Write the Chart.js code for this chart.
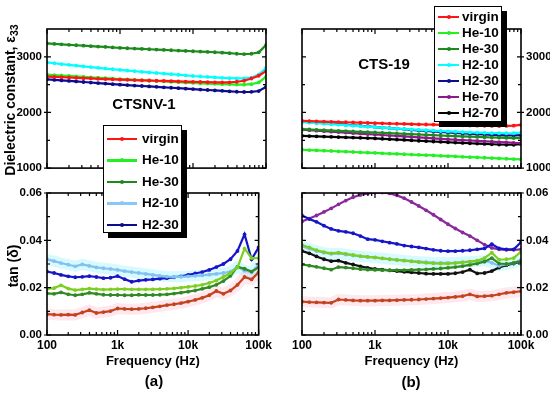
<!DOCTYPE html>
<html>
<head>
<meta charset="utf-8">
<script src="https://cdn.jsdelivr.net/npm/chart.js@4.4.0/dist/chart.umd.min.js"></script>
<style>
body { margin: 0; background: #fff; width: 550px; height: 394px; position: relative; overflow: hidden;
       font-family: 'Liberation Sans', Arial, sans-serif; font-weight: bold; color: #000; }
.panel { position: absolute; }
.txt { position: absolute; white-space: nowrap; transform: translate(-50%, -50%); }
.vtxt { position: absolute; white-space: nowrap; transform: translate(-50%, -50%) rotate(-90deg); font-size: 14px; }
.legend { position: absolute; background: #fff; border: 1px solid #000; box-shadow: 5px 5px 0 #000; z-index: 5; }
.legend .row { position: relative; white-space: nowrap; }
.legend .ln { position: absolute; height: 2.5px; }
.legend .dot { position: absolute; width: 4px; height: 4px; border-radius: 50%; }
.legend .lab { position: absolute; font-size: 13.5px; }
</style>
</head>
<body>
<div class="panel" id="pA1" style="left:0;top:0;width:275px;height:180px"><canvas id="cA1"></canvas></div>
<div class="panel" id="pA2" style="left:0;top:180px;width:275px;height:214px"><canvas id="cA2"></canvas></div>
<div class="panel" id="pB1" style="left:275px;top:0;width:275px;height:180px"><canvas id="cB1"></canvas></div>
<div class="panel" id="pB2" style="left:275px;top:180px;width:275px;height:214px"><canvas id="cB2"></canvas></div>

<div class="vtxt" style="left:11px;top:100px">Dielectric constant, &epsilon;<sub style="font-size:10.5px">33</sub></div>
<div class="vtxt" style="left:13px;top:266px">tan (&delta;)</div>
<div class="txt" style="left:144px;top:103px;font-size:15px">CTSNV-1</div>
<div class="txt" style="left:384px;top:63px;font-size:15px">CTS-19</div>
<div class="txt" style="left:154px;top:380px;font-size:15px">(a)</div>
<div class="txt" style="left:411px;top:381px;font-size:15px">(b)</div>
<div class="legend" id="legA" style="left:103px;top:125px;width:77px;height:106px"></div>
<div class="legend" id="legB" style="left:434px;top:6px;width:66px;height:114px"></div>

<script>
const freq = [100, 126, 158, 200, 251, 316, 398, 501, 631, 794, 1000, 1259, 1585, 1995, 2512, 3162, 3981, 5012, 6310, 7943,
    10000, 12589, 15849, 19953, 25119, 31623, 39811, 50119, 63096, 79433, 100000];
const xMajor = [100, 1000, 10000, 100000];
const xLabels = ['100', '1k', '10k', '100k'];
const epsTicks = [1000, 2000, 3000];
const epsMinor = [1500, 2500];
const tanTicks = [0, 0.02, 0.04, 0.06];
const tanMinor = [0.01, 0.03, 0.05];

const namesA = ['virgin', 'He-10', 'He-30', 'H2-10', 'H2-30'];
const namesB = ['virgin', 'He-10', 'He-30', 'H2-10', 'H2-30', 'He-70', 'H2-70'];

// (a) CTSNV-1, dielectric constant
const epsA_virgin = [2645, 2640, 2634, 2628, 2622, 2616, 2611, 2605, 2600, 2595, 2590, 2586, 2582, 2578, 2574, 2570, 2566, 2562, 2558, 2554, 2550, 2547, 2544, 2541, 2539, 2542, 2552, 2570, 2610, 2660, 2740];
const epsA_he10 = [2680, 2672, 2664, 2656, 2648, 2640, 2632, 2624, 2616, 2608, 2600, 2593, 2586, 2579, 2572, 2565, 2558, 2551, 2544, 2537, 2530, 2524, 2519, 2514, 2509, 2505, 2502, 2500, 2508, 2540, 2640];
const epsA_he30 = [3240, 3232, 3224, 3216, 3208, 3200, 3192, 3184, 3177, 3168, 3160, 3154, 3148, 3142, 3136, 3130, 3124, 3118, 3112, 3106, 3100, 3094, 3088, 3082, 3075, 3065, 3055, 3050, 3055, 3080, 3210];
const epsA_h210 = [2900, 2885, 2870, 2856, 2842, 2828, 2815, 2802, 2789, 2777, 2765, 2753, 2742, 2731, 2720, 2709, 2698, 2688, 2678, 2667, 2655, 2646, 2638, 2630, 2623, 2617, 2612, 2612, 2625, 2680, 2800];
const epsA_h230 = [2595, 2585, 2576, 2566, 2557, 2547, 2538, 2528, 2519, 2509, 2500, 2492, 2484, 2476, 2468, 2460, 2452, 2444, 2436, 2428, 2420, 2412, 2404, 2396, 2388, 2380, 2372, 2368, 2370, 2385, 2460];

// (a) CTSNV-1, tan delta
const tanA_virgin = [0.0088, 0.0086, 0.0085, 0.0086, 0.0085, 0.0095, 0.0105, 0.0093, 0.0097, 0.0101, 0.0112, 0.0110, 0.0109, 0.0110, 0.0113, 0.0117, 0.0121, 0.0126, 0.0130, 0.0135, 0.0141, 0.0148, 0.0157, 0.0168, 0.0186, 0.0174, 0.0188, 0.0212, 0.0245, 0.0235, 0.0265];
const tanA_he10 = [0.0195, 0.0198, 0.0210, 0.0196, 0.0190, 0.0193, 0.0196, 0.0194, 0.0192, 0.0193, 0.0194, 0.0194, 0.0193, 0.0193, 0.0193, 0.0193, 0.0194, 0.0195, 0.0197, 0.0200, 0.0203, 0.0207, 0.0212, 0.0220, 0.0230, 0.0245, 0.0262, 0.0285, 0.0365, 0.0325, 0.0325];
const tanA_he30 = [0.0176, 0.0174, 0.0180, 0.0172, 0.0168, 0.0172, 0.0178, 0.0174, 0.0170, 0.0169, 0.0169, 0.0168, 0.0168, 0.0170, 0.0169, 0.0169, 0.0170, 0.0172, 0.0175, 0.0179, 0.0183, 0.0188, 0.0195, 0.0202, 0.0212, 0.0228, 0.0250, 0.0288, 0.0280, 0.0268, 0.0285];
const tanA_h210 = [0.0320, 0.0312, 0.0304, 0.0297, 0.0290, 0.0298, 0.0292, 0.0286, 0.0282, 0.0279, 0.0275, 0.0270, 0.0266, 0.0262, 0.0258, 0.0254, 0.0250, 0.0247, 0.0246, 0.0246, 0.0248, 0.0250, 0.0252, 0.0255, 0.0258, 0.0262, 0.0268, 0.0288, 0.0272, 0.0265, 0.0298];
const tanA_h230 = [0.0268, 0.0262, 0.0254, 0.0248, 0.0244, 0.0246, 0.0249, 0.0245, 0.0240, 0.0242, 0.0249, 0.0236, 0.0225, 0.0230, 0.0233, 0.0235, 0.0238, 0.0240, 0.0244, 0.0248, 0.0254, 0.0260, 0.0266, 0.0275, 0.0287, 0.0300, 0.0320, 0.0355, 0.0425, 0.0320, 0.0370];

// (b) CTS-19, dielectric constant
const epsB_virgin = [1850, 1845, 1841, 1836, 1832, 1828, 1824, 1820, 1816, 1812, 1808, 1804, 1800, 1797, 1794, 1790, 1787, 1784, 1781, 1778, 1775, 1772, 1769, 1766, 1763, 1760, 1758, 1757, 1758, 1762, 1778];
const epsB_he10 = [1330, 1324, 1318, 1313, 1307, 1301, 1295, 1289, 1284, 1278, 1272, 1266, 1260, 1255, 1249, 1243, 1238, 1232, 1227, 1221, 1215, 1209, 1203, 1197, 1191, 1186, 1180, 1174, 1168, 1162, 1157];
const epsB_he30 = [1700, 1694, 1688, 1682, 1676, 1670, 1664, 1658, 1652, 1646, 1640, 1634, 1628, 1622, 1616, 1610, 1604, 1598, 1592, 1586, 1580, 1575, 1570, 1565, 1560, 1555, 1550, 1546, 1542, 1540, 1542];
const epsB_h210 = [1825, 1816, 1807, 1798, 1789, 1780, 1771, 1762, 1753, 1744, 1735, 1727, 1719, 1711, 1703, 1695, 1688, 1681, 1674, 1667, 1660, 1654, 1648, 1643, 1638, 1634, 1630, 1627, 1626, 1627, 1635];
const epsB_h230 = [1840, 1830, 1820, 1810, 1800, 1790, 1780, 1770, 1760, 1749, 1738, 1728, 1718, 1708, 1698, 1688, 1678, 1668, 1658, 1649, 1640, 1632, 1624, 1617, 1610, 1604, 1598, 1592, 1588, 1586, 1592];
const epsB_he70 = [1690, 1681, 1672, 1664, 1655, 1647, 1638, 1629, 1621, 1612, 1604, 1595, 1586, 1578, 1569, 1560, 1552, 1543, 1534, 1526, 1517, 1510, 1503, 1496, 1489, 1482, 1475, 1468, 1461, 1454, 1450];
const epsB_h270 = [1580, 1576, 1571, 1567, 1562, 1558, 1553, 1548, 1544, 1539, 1534, 1527, 1520, 1513, 1506, 1499, 1492, 1485, 1478, 1472, 1465, 1459, 1453, 1447, 1441, 1435, 1429, 1424, 1420, 1420, 1432];

// (b) CTS-19, tan delta
const tanB_virgin = [0.0141, 0.0139, 0.0138, 0.0137, 0.0136, 0.0150, 0.0148, 0.0146, 0.0145, 0.0145, 0.0145, 0.0146, 0.0146, 0.0147, 0.0148, 0.0149, 0.0150, 0.0152, 0.0154, 0.0156, 0.0158, 0.0161, 0.0164, 0.0172, 0.0163, 0.0164, 0.0166, 0.0172, 0.0178, 0.0181, 0.0185];
const tanB_he10 = [0.0380, 0.0370, 0.0358, 0.0350, 0.0345, 0.0348, 0.0343, 0.0338, 0.0333, 0.0330, 0.0328, 0.0324, 0.0320, 0.0317, 0.0314, 0.0311, 0.0308, 0.0305, 0.0303, 0.0302, 0.0302, 0.0304, 0.0307, 0.0310, 0.0314, 0.0325, 0.0348, 0.0318, 0.0320, 0.0325, 0.0352];
const tanB_he30 = [0.0298, 0.0293, 0.0288, 0.0282, 0.0276, 0.0287, 0.0285, 0.0282, 0.0278, 0.0276, 0.0275, 0.0274, 0.0274, 0.0274, 0.0274, 0.0275, 0.0276, 0.0277, 0.0279, 0.0281, 0.0284, 0.0287, 0.0291, 0.0296, 0.0302, 0.0310, 0.0325, 0.0302, 0.0300, 0.0305, 0.0312];
const tanB_h210 = [0.0375, 0.0365, 0.0355, 0.0348, 0.0343, 0.0345, 0.0340, 0.0336, 0.0332, 0.0330, 0.0327, 0.0324, 0.0321, 0.0318, 0.0315, 0.0312, 0.0310, 0.0308, 0.0306, 0.0305, 0.0305, 0.0306, 0.0308, 0.0310, 0.0312, 0.0314, 0.0305, 0.0292, 0.0298, 0.0305, 0.0318];
const tanB_h230 = [0.0505, 0.0490, 0.0478, 0.0462, 0.0448, 0.0440, 0.0436, 0.0430, 0.0418, 0.0405, 0.0402, 0.0396, 0.0390, 0.0385, 0.0378, 0.0374, 0.0370, 0.0365, 0.0360, 0.0356, 0.0354, 0.0354, 0.0356, 0.0358, 0.0362, 0.0366, 0.0384, 0.0366, 0.0362, 0.0362, 0.0392];
const tanB_he70 = [0.0480, 0.0492, 0.0505, 0.0520, 0.0535, 0.0552, 0.0568, 0.0582, 0.0592, 0.0598, 0.0602, 0.0602, 0.0598, 0.0590, 0.0578, 0.0562, 0.0545, 0.0527, 0.0508, 0.0488, 0.0468, 0.0450, 0.0433, 0.0418, 0.0400, 0.0382, 0.0368, 0.0362, 0.0360, 0.0360, 0.0362];
const tanB_h270 = [0.0355, 0.0345, 0.0332, 0.0320, 0.0312, 0.0314, 0.0305, 0.0298, 0.0290, 0.0284, 0.0279, 0.0276, 0.0273, 0.0270, 0.0267, 0.0265, 0.0262, 0.0259, 0.0258, 0.0258, 0.0258, 0.0261, 0.0266, 0.0276, 0.0260, 0.0262, 0.0270, 0.0285, 0.0295, 0.0302, 0.0310];

const topColors = ['#ff1414', '#22f022', '#1e8a1e', '#00ffff', '#0c0c8c', '#8b1a8b', '#000000'];
const lowColors = ['#c2441c', '#7ccf22', '#2f8a23', '#84c0f0', '#1616c8', '#8a2a9a', '#111111'];
const legendColorsA = ['#ff1414', '#22f022', '#1e8a1e', '#88c8f8', '#0c0c8c'];
const legendColorsB = topColors;

const tickFont = { family: 'Liberation Sans', size: 11.5, weight: 'bold' };
const xTickFont = { family: 'Liberation Sans', size: 12, weight: 'bold' };
const titleFont = { family: 'Liberation Sans', size: 13, weight: 'bold' };

function toPoints(values) {
    return freq.map((f, i) => ({ x: f, y: values[i] }));
}

function lineSet(label, values, color) {
    return {
        label, data: toPoints(values), borderColor: color, backgroundColor: color,
        borderWidth: 2.2, pointRadius: 1.9, pointBorderWidth: 0, tension: 0,
    };
}

function bandSet(values, color) {
    return { data: toPoints(values), borderColor: color, borderWidth: 11, pointRadius: 0, tension: 0, order: 10 };
}

const framePlugin = {
    id: 'frame',
    afterDatasetsDraw(chart, args, o) {
        const { ctx, chartArea: a, scales: { x, y } } = chart;
        ctx.save();
        ctx.strokeStyle = '#000';
        ctx.lineWidth = 1.6;
        ctx.strokeRect(a.left, a.top, a.right - a.left, a.bottom - a.top);
        ctx.lineWidth = 1.2;
        ctx.beginPath();
        const tickX = (v, len) => {
            const px = x.getPixelForValue(v);
            ctx.moveTo(px, a.bottom); ctx.lineTo(px, a.bottom - len);
            ctx.moveTo(px, a.top); ctx.lineTo(px, a.top + len);
        };
        xMajor.forEach(v => tickX(v, 5));
        xMajor.slice(0, -1).forEach(d => { for (let m = 2; m <= 9; m++) tickX(d * m, 3); });
        const tickY = (v, len, out) => {
            const py = y.getPixelForValue(v);
            const outL = o.side === 'left' ? out : 0, outR = o.side === 'right' ? out : 0;
            ctx.moveTo(a.left - outL, py); ctx.lineTo(a.left + len, py);
            ctx.moveTo(a.right + outR, py); ctx.lineTo(a.right - len, py);
        };
        o.yMajor.forEach(v => tickY(v, 4, 3));
        o.yMinor.forEach(v => tickY(v, 3, 0));
        ctx.stroke();
        ctx.restore();
    },
};

function buildPanel(id, datasets, o) {
    return new Chart(document.getElementById(id), {
        type: 'line',
        data: { datasets },
        options: {
            animation: false,
            responsive: true,
            maintainAspectRatio: false,
            layout: { padding: o.padding },
            plugins: {
                legend: { display: false },
                tooltip: { enabled: false },
                frame: { yMajor: o.yTicks, yMinor: o.yMinor, side: o.side },
            },
            scales: {
                x: {
                    type: 'logarithmic', min: 100, max: 100000, position: 'bottom',
                    afterBuildTicks: s => { s.ticks = xMajor.map(v => ({ value: v, major: true })); },
                    afterFit: s => { s.height = o.xHeight; },
                    grid: { display: false, drawTicks: false },
                    border: { display: false },
                    ticks: { display: o.xLabels, padding: 3, color: '#000', font: xTickFont, maxRotation: 0, autoSkip: false,
                             callback: (v, i) => xLabels[i] },
                    title: { display: o.xLabels, text: 'Frequency (Hz)', color: '#000', font: titleFont, padding: 0 },
                },
                y: {
                    position: o.side, min: o.yMin, max: o.yMax,
                    afterBuildTicks: s => { s.ticks = o.yTicks.map(v => ({ value: v })); },
                    afterFit: s => { s.width = o.yWidth; },
                    grid: { display: false, drawTicks: false },
                    border: { display: false },
                    ticks: { padding: 5, color: '#000', font: tickFont, callback: o.fmt },
                },
            },
        },
        plugins: [framePlugin],
    });
}

function buildLegend(id, names, colors, rowH, lineW, textX, topPad) {
    const box = document.getElementById(id);
    names.forEach((name, i) => {
        const row = document.createElement('div');
        row.className = 'row';
        row.style.height = rowH + 'px';
        if (i === 0) row.style.marginTop = topPad + 'px';
        const mid = rowH / 2;
        row.innerHTML =
            `<div class="ln" style="left:3px;top:${mid - 1.25}px;width:${lineW}px;background:${colors[i]}"></div>` +
            `<div class="dot" style="left:${3 + lineW / 2 - 2}px;top:${mid - 2}px;background:${colors[i]}"></div>` +
            `<div class="lab" style="left:${textX}px;top:${mid - 8}px;line-height:16px">${name}</div>`;
        box.appendChild(row);
    });
}

const epsA = [epsA_virgin, epsA_he10, epsA_he30, epsA_h210, epsA_h230];
const tanA = [tanA_virgin, tanA_he10, tanA_he30, tanA_h210, tanA_h230];
const epsB = [epsB_virgin, epsB_he10, epsB_he30, epsB_h210, epsB_h230, epsB_he70, epsB_h270];
const tanB = [tanB_virgin, tanB_he10, tanB_he30, tanB_h210, tanB_h230, tanB_he70, tanB_h270];

const fmtEps = v => String(v);
const fmtTan = v => v.toFixed(2);

buildPanel('cA1', namesA.map((n, i) => lineSet(n, epsA[i], topColors[i])), {
    padding: { top: 29, right: 9, left: 0, bottom: 0 }, xHeight: 8, xLabels: false,
    side: 'left', yWidth: 47, yMin: 1000, yMax: 3500, yTicks: epsTicks, yMinor: epsMinor, fmt: fmtEps,
});
buildPanel('cA2', namesA.map((n, i) => lineSet(n, tanA[i], lowColors[i])).concat([
    bandSet(tanA_virgin, 'rgba(255,170,200,0.28)'), bandSet(tanA_h210, 'rgba(120,240,255,0.30)'),
]), {
    padding: { top: 13, right: 9, left: 0, bottom: 25 }, xHeight: 34, xLabels: true,
    side: 'left', yWidth: 47, yMin: 0, yMax: 0.06, yTicks: tanTicks, yMinor: tanMinor, fmt: fmtTan,
});
buildPanel('cB1', namesB.map((n, i) => lineSet(n, epsB[i], topColors[i])), {
    padding: { top: 29, right: 0, left: 27, bottom: 0 }, xHeight: 9, xLabels: false,
    side: 'right', yWidth: 29, yMin: 1000, yMax: 3500, yTicks: epsTicks, yMinor: epsMinor, fmt: fmtEps,
});
buildPanel('cB2', namesB.map((n, i) => lineSet(n, tanB[i], lowColors[i])).concat([
    bandSet(tanB_virgin, 'rgba(255,170,200,0.28)'), bandSet(tanB_h210, 'rgba(120,240,255,0.30)'),
]), {
    padding: { top: 13, right: 0, left: 27, bottom: 25 }, xHeight: 34, xLabels: true,
    side: 'right', yWidth: 29, yMin: 0, yMax: 0.06, yTicks: tanTicks, yMinor: tanMinor, fmt: fmtTan,
});

buildLegend('legA', namesA, legendColorsA, 21.5, 30, 38, 2);
buildLegend('legB', namesB, legendColorsB, 16, 21, 27, 2);
</script>
</body>
</html>
